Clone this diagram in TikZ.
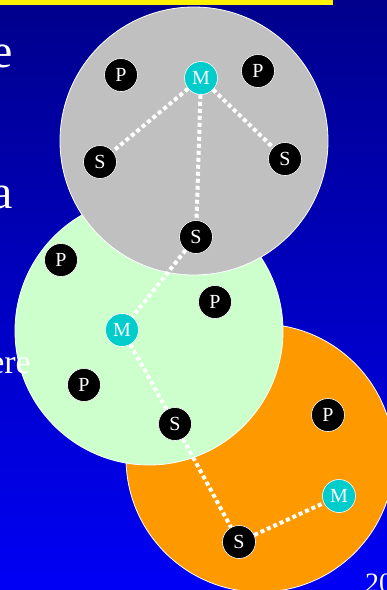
\documentclass[tikz,border=0pt]{standalone}
\usepackage{fontspec}
\setmainfont{Liberation Serif}
\usepackage{tikz}
\usetikzlibrary{shapes}
\definecolor{navy1}{RGB}{0,0,140}
\definecolor{blue1}{RGB}{0,0,245}
\definecolor{gray1}{RGB}{192,192,192}
\definecolor{green1}{RGB}{204,255,204}
\definecolor{orange1}{RGB}{255,153,0}
\definecolor{cyan1}{RGB}{0,204,204}
\tikzstyle{net1}=[circle, draw=white, line width=0.8pt, minimum size=268pt, inner sep=0pt]
\tikzstyle{dev}=[circle, draw=white, line width=0.6pt, fill=black, minimum size=33pt, inner sep=0pt,
        text=white, font=\fontsize{20}{20}\selectfont]
\tikzstyle{mst}=[dev, fill=cyan1]
\tikzstyle{link}=[draw=white, line width=4pt, dash pattern=on 4pt off 3pt]
\tikzstyle{big}=[text=white, inner sep=0pt, anchor=base east]

\begin{document}
\begin{tikzpicture}[x=1pt, y=-1pt]
\useasboundingbox (0,0) rectangle (387,590);
\clip (0,0) rectangle (387,590);
\shade[top color=navy1, bottom color=blue1] (0,0) rectangle (387,590);
\fill[yellow] (0,0) rectangle (333,4.5);

% text left over from the slide
\node [big, font=\fontsize{48}{48}\selectfont] (t1) at (13,67) {e};
\node [big, font=\fontsize{48}{48}\selectfont] (t2) at (13,208) {a};
\node [text=white, inner sep=0pt, anchor=base west, font=\fontsize{28}{28}\selectfont] (t4) at (365,592) {20};

% three piconets
\node [net1, fill=orange1] (net3) at (260,458) {};
\node [net1, fill=green1] (net2) at (149,331) {};
\node [net1, fill=gray1] (net1) at (194,141) {};
\node [big, font=\fontsize{34}{34}\selectfont] (t3) at (31,373) {ere};

\node [dev] (p1) at (121,75) {P};
\node [mst] (m1) at (201,78) {M};
\node [dev] (p2) at (258,71) {P};
\node [dev] (s1) at (100,162) {S};
\node [dev] (s2) at (285,159) {S};
\node [dev] (s3) at (196,237) {S};

\node [dev] (p3) at (61,260) {P};
\node [dev] (p4) at (215,302) {P};
\node [mst] (m2) at (122,330) {M};
\node [dev] (p5) at (84,385) {P};
\node [dev] (s4) at (175,424) {S};

\node [dev] (p6) at (328,415) {P};
\node [mst] (m3) at (339,496) {M};
\node [dev] (s5) at (239,542) {S};

\draw [link] (m1) -- (s1);
\draw [link] (m1) -- (s2);
\draw [link] (m1) -- (s3);
\draw [link] (s3) -- (m2);
\draw [link] (m2) -- (s4);
\draw [link] (s4) -- (s5);
\draw [link] (s5) -- (m3);

\end{tikzpicture}
\end{document}
